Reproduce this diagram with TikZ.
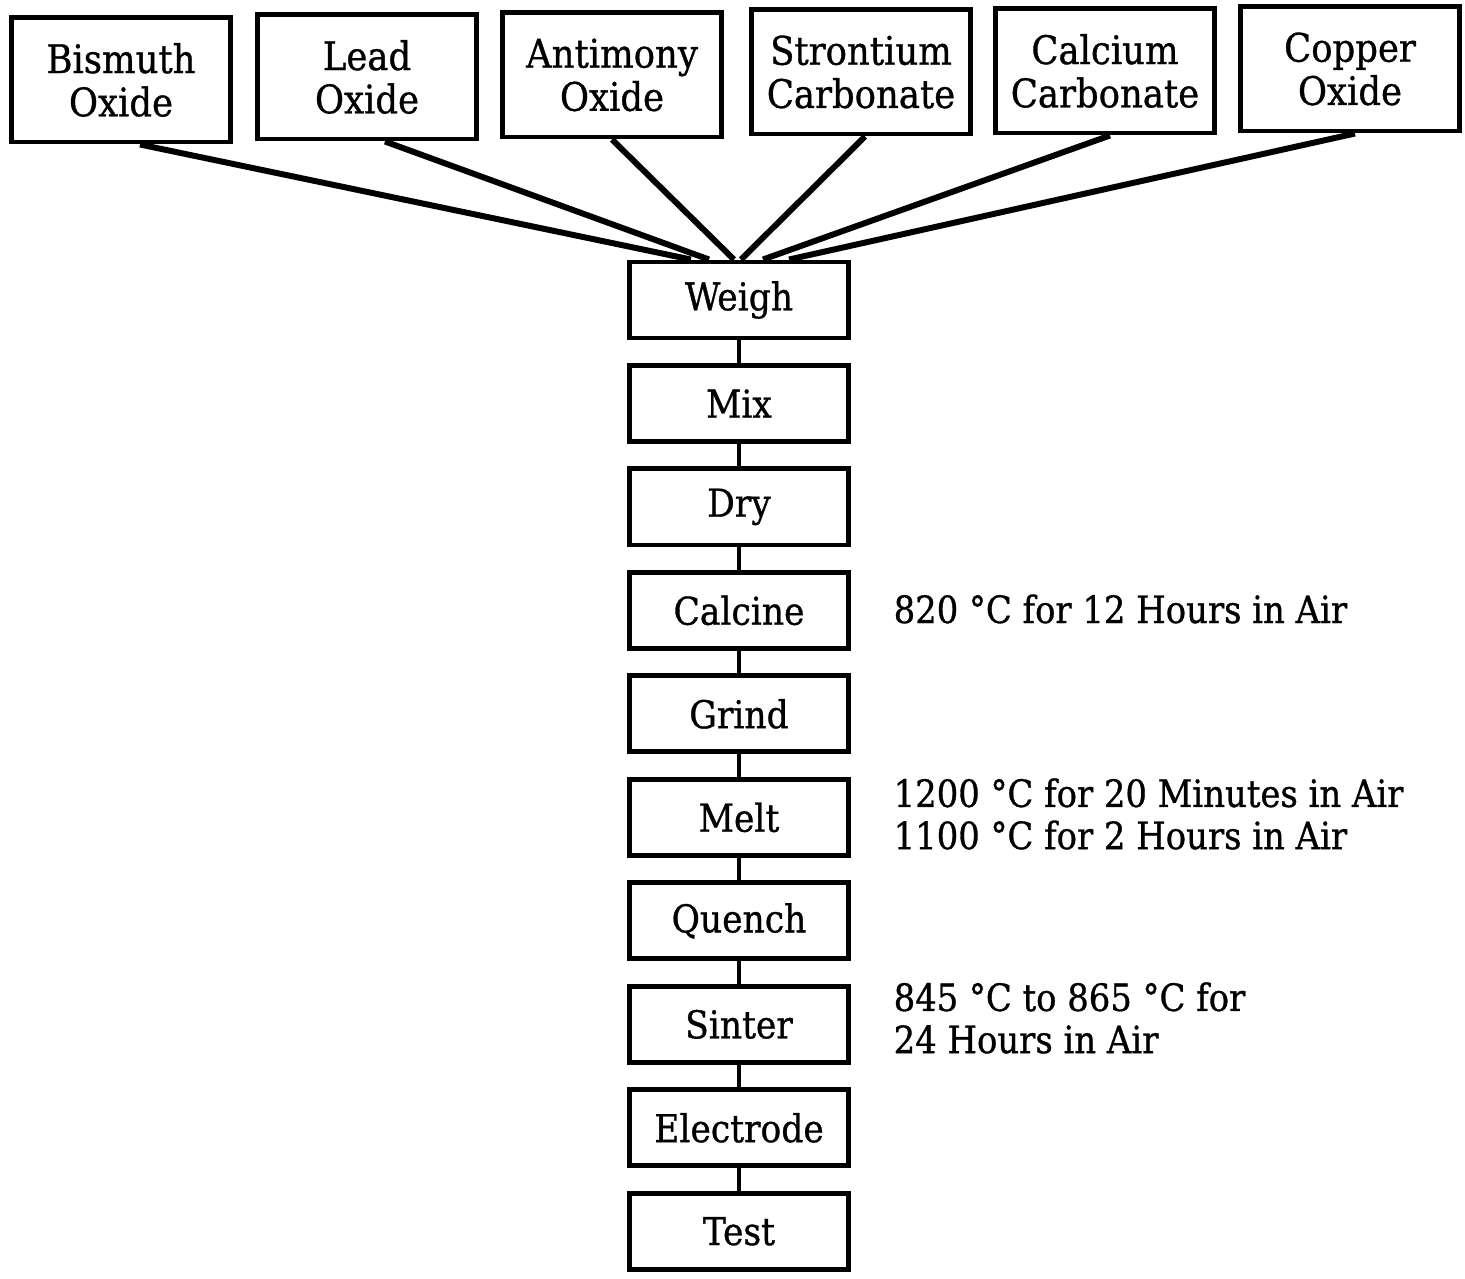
\documentclass[tikz,border=0pt]{standalone}
\usepackage{fontspec}
\setmainfont{DejaVu Serif Condensed}[FakeBold=0.8]
\usetikzlibrary{positioning}

\begin{document}
\begin{tikzpicture}[x=0.01cm, y=-0.01cm,
    stage/.style={draw, line width=1.4pt, minimum width=2.18cm, minimum height=0.76cm,
        inner sep=0pt, align=center, font=\fontsize{10.9}{12}\selectfont},
    oxide/.style={stage, minimum height=1.24cm, font=\fontsize{11.2}{12.3}\selectfont},
    note/.style={anchor=west, align=left, inner sep=0pt, font=\fontsize{10.7}{12}\selectfont},
    feed/.style={line width=1.7pt},
    link/.style={line width=1.1pt}]
    \useasboundingbox (0,0) rectangle (1465,1279);

    \node[oxide] (bi) at (121,80) {Bismuth\\Oxide};
    \node[oxide] (pb) at (367,77) {Lead\\Oxide};
    \node[oxide] (sb) at (612,75) {Antimony\\Oxide};
    \node[oxide] (sr) at (861,72) {Strontium\\Carbonate};
    \node[oxide] (ca) at (1105,71) {Calcium\\Carbonate};
    \node[oxide] (cu) at (1350,69) {Copper\\Oxide};

    \node[stage] (weigh) at (739,300) {Weigh};
    \node[stage, below=0.225cm of weigh] (mix) {Mix};
    \node[stage, below=0.225cm of mix] (dry) {Dry};
    \node[stage, below=0.225cm of dry] (calcine) {Calcine};
    \node[stage, below=0.225cm of calcine] (grind) {Grind};
    \node[stage, below=0.225cm of grind] (melt) {Melt};
    \node[stage, below=0.225cm of melt] (quench) {Quench};
    \node[stage, below=0.225cm of quench] (sinter) {Sinter};
    \node[stage, below=0.225cm of sinter] (electrode) {Electrode};
    \node[stage, below=0.225cm of electrode] (test) {Test};

    \foreach \n/\s/\e in {bi/0.19/-0.48, pb/0.18/-0.30, sb/0/-0.05, sr/0.04/0.02, ca/0.05/0.24, cu/0.05/0.50}
        \draw[feed] ([xshift=\s cm]\n.south) -- ([xshift=\e cm]weigh.north);

    \foreach \a/\b in {weigh/mix, mix/dry, dry/calcine, calcine/grind, grind/melt,
        melt/quench, quench/sinter, sinter/electrode, electrode/test}
        \draw[link] (\a) -- (\b);

    \node[note] (tc) at (893,609) {820 °C for 12 Hours in Air};
    \node[note] (tm) at (893,814) {1200 °C for 20 Minutes in Air\\1100 °C for 2 Hours in Air};
    \node[note] (ts) at (893,1018) {845 °C to 865 °C for\\24 Hours in Air};
\end{tikzpicture}
\end{document}
